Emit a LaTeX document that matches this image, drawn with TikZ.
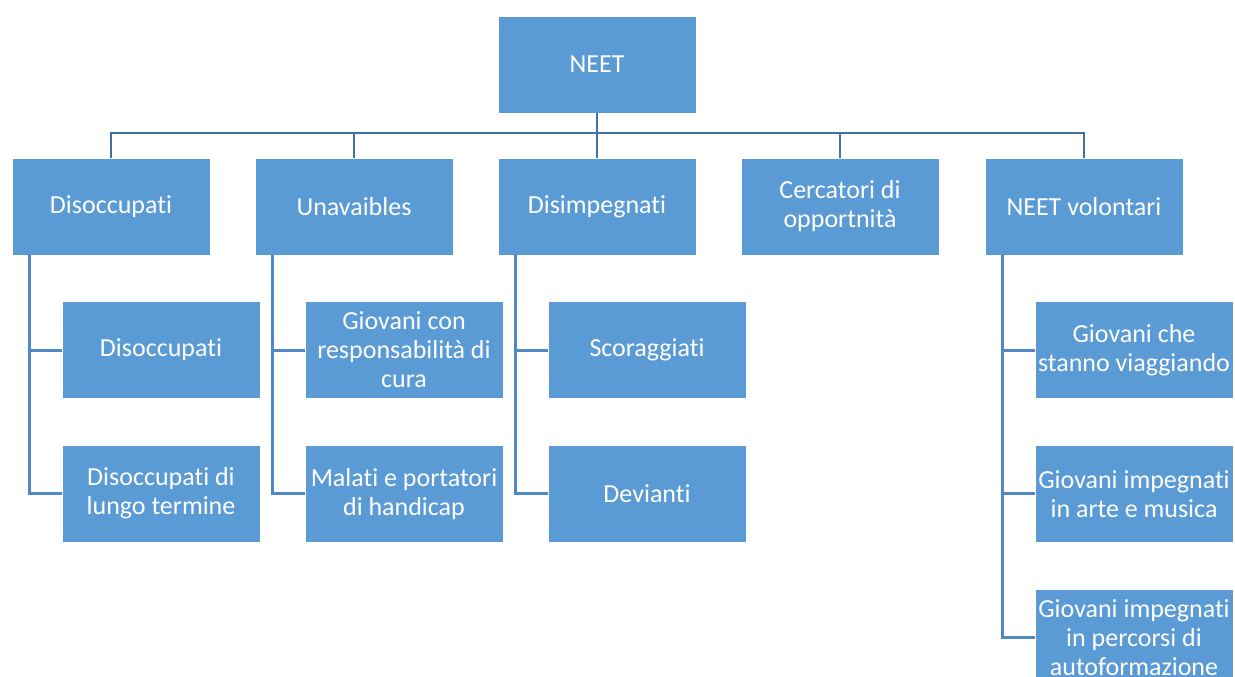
\documentclass[tikz,border=0pt]{standalone}
\usepackage{fontspec}
\setmainfont{Carlito}[RawFeature={-liga;-calt;-clig;-dlig}]
\usetikzlibrary{positioning}
\definecolor{boxblue}{HTML}{5B9BD5}
\definecolor{busblue}{HTML}{41719C}
\definecolor{subblue}{HTML}{4F88C4}

\begin{document}
\begin{tikzpicture}[x=1pt, y=-1pt,
    box/.style={draw=white, line width=0.6pt, fill=boxblue, text=white, minimum width=198pt, minimum height=97pt, inner sep=2pt, align=center, font=\fontsize{26}{29}\selectfont},
    bus/.style={draw=busblue, line width=2.8pt},
    sub/.style={draw=subblue, line width=2.8pt}]
                \clip (0,0) rectangle (1235,677);
                \node[box] (neet) at (597,64.5) {NEET};
                \node[box] (dis) at (111,206.5) {Disoccupati};
                \node[box] (unav) at (354,206.5) {Unavaibles};
                \node[box] (disimp) at (597,206.5) {Disimpegnati};
                \node[box] (cerc) at (840,206.5) {Cercatori di\\opportnità};
                \node[box] (vol) at (1084,206.5) {NEET volontari};
                % second level
                \node[box, below=46pt of dis, xshift=50pt] (dis1) {Disoccupati};
                \node[box, below=46pt of dis1] (dis2) {Disoccupati di\\lungo termine};
                \node[box, below=46pt of unav, xshift=50pt] (unav1) {Giovani con\\responsabilità di\\cura};
                \node[box, below=46pt of unav1] (unav2) {Malati e portatori\\di handicap};
                \node[box, below=46pt of disimp, xshift=50pt] (disimp1) {Scoraggiati};
                \node[box, below=46pt of disimp1] (disimp2) {Devianti};
                \node[box, below=46pt of vol, xshift=50pt] (vol1) {Giovani che\\stanno viaggiando};
                \node[box, below=46pt of vol1] (vol2) {Giovani impegnati\\in arte e musica};
                \node[box, below=46pt of vol2] (vol3) {Giovani impegnati\\in percorsi di\\autoformazione};
                % connectors
                \coordinate (bus) at (597,133);
                \draw[bus] (neet) -- (bus);
                \draw[bus] (dis.north) |- (bus) -| (vol.north);
                \draw[bus] (unav.north) -- (unav.north |- bus) (disimp.north) -- (bus) (cerc.north) -- (cerc.north |- bus);
                \draw[sub] ([xshift=18pt]dis.south west) |- (dis1) ([xshift=18pt]dis.south west) |- (dis2);
                \draw[sub] ([xshift=18pt]unav.south west) |- (unav1) ([xshift=18pt]unav.south west) |- (unav2);
                \draw[sub] ([xshift=18pt]disimp.south west) |- (disimp1) ([xshift=18pt]disimp.south west) |- (disimp2);
                \draw[sub] ([xshift=18pt]vol.south west) |- (vol1) ([xshift=18pt]vol.south west) |- (vol2) ([xshift=18pt]vol.south west) |- (vol3);
            \end{tikzpicture}
\end{document}
